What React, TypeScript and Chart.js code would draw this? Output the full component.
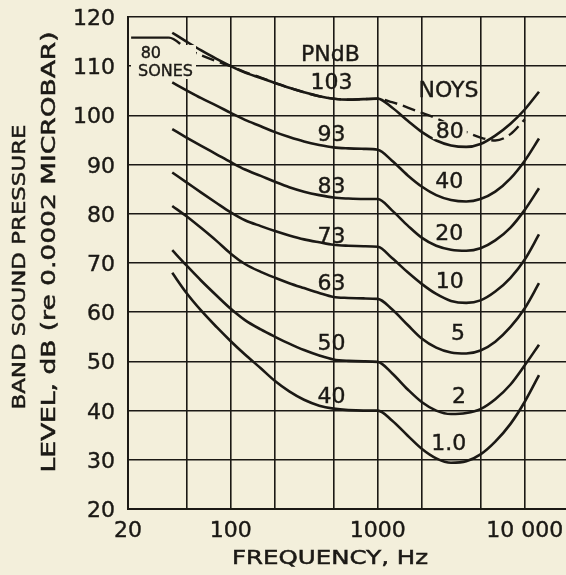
import React, { useEffect, useRef } from 'react';
import { Chart, registerables } from 'chart.js';

Chart.register(...registerables);

// Frequencies (Hz) at which the equal-noisiness contours are read
const FREQS = [40, 50, 63, 80, 100, 125, 160, 200, 250, 315, 400, 500, 630, 800, 1000, 1250, 1600, 2000, 2500, 3150, 4000, 5000, 6300, 8000, 10000, 12500];

// Band sound pressure level (dB) for each contour, labelled by PNdB / noys
const PNDB_103 = [116.8, 115.0, 113.2, 111.5, 110.0, 108.7, 107.6, 106.6, 105.6, 104.7, 103.9, 103.4, 103.2, 103.3, 103.4, 101.6, 98.9, 96.6, 94.9, 93.9, 93.6, 94.2, 95.9, 98.3, 101.2, 104.8];
const PNDB_93 = [106.7, 105.1, 103.5, 102.0, 100.5, 99.1, 97.8, 96.6, 95.6, 94.7, 94.0, 93.5, 93.3, 93.2, 93.0, 90.8, 87.8, 85.5, 83.8, 82.8, 82.5, 83.0, 84.5, 87.2, 90.8, 95.3];
const PNDB_83 = [97.2, 95.5, 93.8, 92.1, 90.5, 89.0, 87.7, 86.5, 85.4, 84.5, 83.8, 83.3, 83.1, 83.0, 83.0, 80.7, 77.6, 75.1, 73.5, 72.7, 72.5, 73.0, 74.6, 77.2, 80.8, 85.2];
const PNDB_73 = [88.4, 86.4, 84.3, 82.2, 80.3, 78.7, 77.5, 76.5, 75.6, 74.8, 74.2, 73.7, 73.5, 73.4, 73.3, 71.0, 68.1, 65.7, 63.7, 62.3, 61.9, 62.4, 64.2, 67.0, 70.7, 75.8];
const PNDB_63 = [81.6, 79.5, 77.1, 74.5, 71.9, 69.8, 68.2, 67.0, 65.9, 64.9, 63.9, 63.1, 62.9, 62.8, 62.7, 60.6, 57.4, 54.6, 52.8, 51.8, 51.6, 52.2, 54.0, 57.0, 60.8, 65.9];
const PNDB_50 = [72.6, 69.5, 66.4, 63.4, 60.7, 58.4, 56.5, 55.0, 53.6, 52.3, 51.2, 50.4, 50.1, 50.0, 49.9, 47.6, 44.3, 41.7, 40.0, 39.3, 39.5, 40.3, 42.3, 45.3, 49.2, 53.4];
const PNDB_40 = [68.0, 63.9, 60.3, 57.0, 54.1, 51.4, 48.6, 46.0, 43.9, 42.2, 41.0, 40.4, 40.1, 40.0, 40.0, 38.0, 34.9, 32.2, 30.3, 29.4, 29.7, 31.1, 33.7, 37.3, 41.8, 47.2];

// 80 sones contour (dashed, with a solid leader at the left)
const SONE_FREQS = [21, 38, 50, 63, 80, 100, 125, 160, 200, 250, 315, 400, 500, 630, 800, 1000, 1250, 1600, 2000, 2500, 3150, 4000, 5000, 6300, 8000, 10000];
const SONE_80 = [115.8, 115.8, 113.6, 112.2, 111.0, 110.0, 108.8, 107.7, 106.6, 105.6, 104.7, 103.9, 103.4, 103.2, 103.3, 103.4, 102.7, 101.6, 100.5, 99.4, 98.0, 96.6, 95.5, 94.9, 96.2, 99.2];

const CONTOURS = [PNDB_103, PNDB_93, PNDB_83, PNDB_73, PNDB_63, PNDB_50, PNDB_40];

// Contour labels
const PNDB_LABELS = ['103', '93', '83', '73', '63', '50', '40'];
const PNDB_LABEL_FREQ = 485;
const PNDB_LABEL_LEVELS = [107, 96.4, 85.9, 75.7, 66.2, 54.0, 43.2];
const NOY_LABELS = ['80', '40', '20', '10', '5', '2', '1.0'];
const NOY_LABEL_FREQS = [3090, 3070, 3070, 3090, 3515, 3570, 3040];
const NOY_LABEL_LEVELS = [97.0, 86.9, 76.4, 66.5, 55.9, 43.1, 33.7];

// Axes
const X_MIN = 20;
const X_MAX = 19080;
const X_TICKS = [20, 50, 100, 200, 500, 1000, 2000, 5000, 10000];
const X_TICK_LABELS: Record<number, string> = { 20: '20', 100: '100', 1000: '1000', 10000: '10 000' };
const Y_MIN = 20;
const Y_MAX = 120;
const Y_STEP = 10;

const BG = '#f3efdb';
const INK = '#1b1915';
const FONT = '"DejaVu Sans", sans-serif';

function label(ctx: CanvasRenderingContext2D, s: string, cx: number, cy: number, size: number, align: CanvasTextAlign = 'center') {
  ctx.font = `${size}px ${FONT}`;
  ctx.textAlign = align;
  ctx.textBaseline = 'alphabetic';
  ctx.lineWidth = 0.4;
  ctx.strokeStyle = INK;
  ctx.fillStyle = INK;
  ctx.fillText(s, cx, cy + size * 0.365);
  ctx.strokeText(s, cx, cy + size * 0.365);
}

function fitted(ctx: CanvasRenderingContext2D, s: string, cx: number, cy: number, size: number, width: number, rot: number) {
  ctx.save();
  ctx.translate(cx, cy);
  ctx.rotate(rot);
  ctx.font = `${size}px ${FONT}`;
  const w = ctx.measureText(s).width;
  ctx.scale(width / w, 1);
  ctx.textAlign = 'center';
  ctx.textBaseline = 'alphabetic';
  ctx.fillStyle = INK;
  ctx.strokeStyle = INK;
  ctx.lineWidth = 0.5;
  ctx.fillText(s, 0, size * 0.365);
  ctx.strokeText(s, 0, size * 0.365);
  ctx.restore();
}

const annotate = {
  id: 'annotate',
  beforeDraw(chart: any) {
    const ctx = chart.ctx;
    ctx.save();
    ctx.fillStyle = BG;
    ctx.fillRect(0, 0, chart.width, chart.height);
    ctx.restore();
  },
  afterDatasetsDraw(chart: any) {
    const ctx: CanvasRenderingContext2D = chart.ctx;
    const x = chart.scales.x;
    const y = chart.scales.y;
    const a = chart.chartArea;
    ctx.save();

    // tick labels
    for (let v = Y_MIN; v <= Y_MAX; v += Y_STEP) {
      label(ctx, String(v), a.left - 13, y.getPixelForValue(v), 22, 'right');
    }
    X_TICKS.forEach((v) => {
      const s = X_TICK_LABELS[v];
      if (s) label(ctx, s, x.getPixelForValue(v), a.bottom + 20, 22);
    });

    // 80 SONES label with its cleared box
    ctx.fillStyle = BG;
    ctx.fillRect(a.left + 3, a.top + 28, 65, 34);
    label(ctx, '80', x.getPixelForValue(28.6), y.getPixelForValue(112.8), 16);
    label(ctx, 'SONES', x.getPixelForValue(36), y.getPixelForValue(109.2), 16);

    label(ctx, 'PNdB', x.getPixelForValue(477), y.getPixelForValue(112.6), 22);
    PNDB_LABELS.forEach((s, i) => label(ctx, s, x.getPixelForValue(PNDB_LABEL_FREQ), y.getPixelForValue(PNDB_LABEL_LEVELS[i]), 22));
    label(ctx, 'NOYS', x.getPixelForValue(3030), y.getPixelForValue(105.4), 22);
    NOY_LABELS.forEach((s, i) => {
      const cx = x.getPixelForValue(NOY_LABEL_FREQS[i]);
      const cy = y.getPixelForValue(NOY_LABEL_LEVELS[i]);
      if (i === 0) {
        ctx.fillStyle = BG;
        ctx.fillRect(cx - 17, cy - 9, 34, 18);
      }
      label(ctx, s, cx, cy, 22);
    });

    // axis titles
    fitted(ctx, 'BAND SOUND PRESSURE', a.left - 110, 267, 18, 285, -Math.PI / 2);
    fitted(ctx, 'LEVEL, dB (re 0.0002 MICROBAR)', a.left - 80, 252, 19, 441, -Math.PI / 2);
    fitted(ctx, 'FREQUENCY, Hz', 330, a.bottom + 48, 19, 196, 0);
    ctx.restore();
  },
};

export default function App() {
  const ref = useRef<HTMLCanvasElement>(null);
  useEffect(() => {
    const canvas = ref.current!;
    const solid = CONTOURS.map((vals) => ({
      data: FREQS.map((f, i) => ({ x: f, y: vals[i] })),
      borderColor: INK,
      borderWidth: 2.6,
      pointRadius: 0,
      showLine: true,
      fill: false,
      cubicInterpolationMode: 'monotone' as const,
    }));
    const sones = {
      data: SONE_FREQS.map((f, i) => ({ x: f, y: SONE_80[i] })),
      borderColor: INK,
      borderWidth: 2.4,
      pointRadius: 0,
      showLine: true,
      fill: false,
      cubicInterpolationMode: 'monotone' as const,
      borderDash: [13, 6],
      segment: {
        borderDash: (c: any) => (c.p0DataIndex === 0 ? [] : [13, 6]),
      },
    };
    const grid = { color: INK, lineWidth: 1.6, drawTicks: false };
    const chart = new Chart(canvas, {
      type: 'scatter',
      data: { datasets: [...solid, sones] as any },
      options: {
        animation: false,
        responsive: false,
        devicePixelRatio: 1,
        layout: { padding: { top: 17, left: 0, right: 0, bottom: 0 } },
        plugins: { legend: { display: false }, tooltip: { enabled: false }, title: { display: false } },
        scales: {
          x: {
            type: 'logarithmic',
            min: X_MIN,
            max: X_MAX,
            bounds: 'data',
            grid,
            border: { display: true, color: INK, width: 2 },
            afterBuildTicks: (s: any) => {
              s.ticks = X_TICKS.map((v) => ({ value: v }));
            },
            afterFit: (s: any) => {
              s.height = 66;
            },
            ticks: { display: false, autoSkip: false, maxRotation: 0 },
          },
          y: {
            type: 'linear',
            min: Y_MIN,
            max: Y_MAX,
            grid,
            border: { display: true, color: INK, width: 2 },
            afterFit: (s: any) => {
              s.width = 128;
            },
            ticks: { display: false, stepSize: Y_STEP },
          },
        },
      },
      plugins: [annotate],
    });
    return () => chart.destroy();
  }, []);
  return (
    <div style={{ position: 'fixed', left: 0, top: 0, width: 566, height: 575, background: BG, overflow: 'hidden' }}>
      <canvas ref={ref} width={566} height={575} style={{ display: 'block' }} />
    </div>
  );
}
